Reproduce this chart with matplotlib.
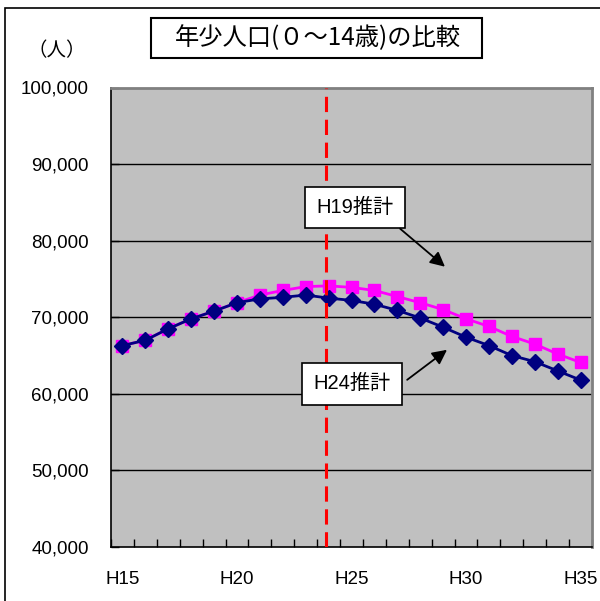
import matplotlib
matplotlib.use("Agg")
import matplotlib.pyplot as plt
from matplotlib.patches import Rectangle
from matplotlib.ticker import FuncFormatter, MultipleLocator

plt.rcParams['font.family'] = ['Liberation Sans', 'Noto Sans CJK JP', 'DejaVu Sans']

# data (年少人口, 人)
years = ["H%d" % y for y in range(15, 36)]
h19 = [66300, 67000, 68500, 69800, 70800, 71900, 72900, 73500, 74000, 74100, 73900,
       73500, 72700, 71900, 71000, 69800, 68800, 67500, 66500, 65200, 64100]
h24 = [66300, 67000, 68500, 69800, 70800, 71900, 72400, 72600, 72900, 72500, 72200,
       71700, 70900, 69900, 68700, 67400, 66300, 65000, 64200, 63000, 61800]
yticks = [40000, 50000, 60000, 70000, 80000, 90000, 100000]
divider_pos = 8.9  # H24 reference line

fig = plt.figure(figsize=(6.0, 6.01), dpi=100)
ax = fig.add_axes([111 / 600, 54 / 601, 481 / 600, 459.5 / 601])
ax.set_facecolor('#C0C0C0')

x = list(range(len(years)))
ax.plot(x, h19, color='#FF00FF', lw=2.0, marker='s', ms=9, mec='#FF00FF', zorder=3)
ax.plot(x, h24, color='#000080', lw=2.0, marker='D', ms=8.3, mec='#000080', zorder=4)

ax.axvline(divider_pos, color='#FF0000', lw=2.2, dashes=(5, 2.5), zorder=5)

for v in yticks[1:-1]:
    ax.axhline(v, color='black', lw=1, zorder=1)

ax.set_xlim(-0.5, len(years) - 0.5)
ax.set_ylim(40000, 100000)
ax.set_yticks(yticks)
ax.yaxis.set_major_formatter(FuncFormatter(lambda v, p: f"{int(v):,}"))
ax.set_xticks(x[::5])
ax.set_xticklabels(years[::5])
ax.xaxis.set_minor_locator(MultipleLocator(1, offset=0.5))
ax.tick_params(axis='x', which='major', length=0, pad=17, labelsize=13.5)
ax.tick_params(axis='x', which='minor', direction='in', length=6, width=1)
ax.tick_params(axis='y', direction='in', length=6, width=1, pad=16, labelsize=13.5)

for s in ['top', 'right']:
    ax.spines[s].set_color('#808080')
    ax.spines[s].set_linewidth(2)
for s in ['left', 'bottom']:
    ax.spines[s].set_color('black')
    ax.spines[s].set_linewidth(1.2)

# annotations
box = dict(boxstyle='square,pad=0.55', fc='white', ec='black', lw=1.2)
arrow = dict(arrowstyle='-|>', color='black', lw=1.3, mutation_scale=22, shrinkA=0, shrinkB=0)
ax.text(10.15, 84300, "H19推計", fontsize=14.5, ha='center', va='center', bbox=box, zorder=6)
ax.annotate("", xy=(14.08, 76600), xytext=(12.12, 81570), arrowprops=arrow, zorder=6)
ax.text(10.02, 61300, "H24推計", fontsize=14.5, ha='center', va='center', bbox=box, zorder=6)
ax.annotate("", xy=(14.17, 65750), xytext=(12.43, 61830), arrowprops=arrow, zorder=6)

# title and unit
fig.patches.append(Rectangle((151 / 600, 1 - 58 / 601), 331 / 600, 40 / 601, transform=fig.transFigure,
                             fc='white', ec='black', lw=1.5))
fig.text(318 / 600, 1 - 38 / 601, "年少人口(０～14歳)の比較", fontsize=17.5, ha='center', va='center',
         family=['Noto Sans CJK JP'])
fig.text(57 / 600, 1 - 51 / 601, "（人）", fontsize=14, ha='center', va='center',
         family=['Noto Sans CJK JP'])

# outer frame
fig.patches.append(Rectangle((5 / 600, -0.05), 1.2, 1 - 8 / 601 + 0.05, transform=fig.transFigure,
                             fill=False, ec='black', lw=1.2))

fig.savefig("out.png", dpi=100)
